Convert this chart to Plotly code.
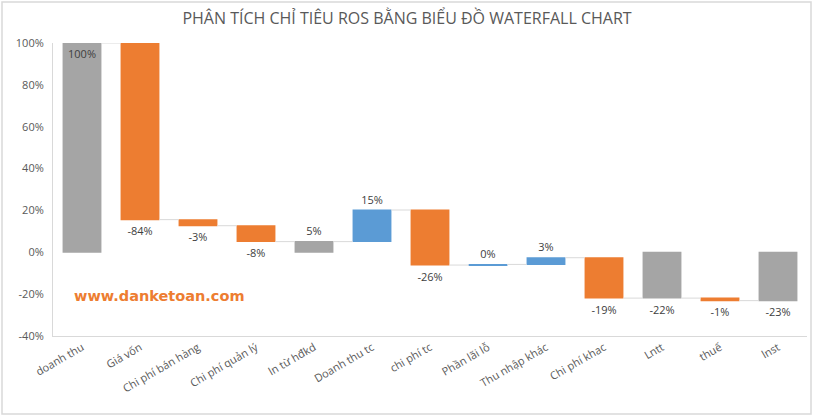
import plotly.graph_objects as go

# =========================
# data (values in %)
categories = [
    "doanh thu", "Giá vốn", "Chi phí bán hàng", "Chi phí quản lý", "ln từ hđkd",
    "Doanh thu tc", "chi phí tc", "Phần lãi lỗ", "Thu nhập khác", "Chi phí khac",
    "Lntt", "thuế", "lnst",
]
measures = [
    "absolute", "relative", "relative", "relative", "total",
    "relative", "relative", "relative", "relative", "relative",
    "total", "relative", "total",
]
values = [100, -84.4, -2.9, -7.6, 0, 15.1, -26.3, 0.3, 3.2, -19.3, 0, -1.2, 0]
y_ticks = [-40, -20, 0, 20, 40, 60, 80, 100]
y_tick_labels = [f"{v}%" for v in y_ticks]

# =========================
# styles
W, H = 814, 417
ML, MR, MT, MB = 53, 7, 43, 81
GREY = "#A5A5A5"
ORANGE = "#ED7D31"
BLUE = "#5B9BD5"
TXT = "#595959"
LINE = "#D9D9D9"
FONT = "Open Sans"

templates = [
    "%{delta:.0f}%" if m == "relative" else "%{final:.0f}%" for m in measures
]
positions = ["inside"] + ["outside"] * (len(categories) - 1)

fig = go.Figure(
    go.Waterfall(
        x=categories,
        y=values,
        measure=measures,
        texttemplate=templates,
        textposition=positions,
        insidetextanchor="end",
        textfont=dict(family=FONT, size=11, color="#404040"),
        insidetextfont=dict(family=FONT, size=11, color="#404040"),
        outsidetextfont=dict(family=FONT, size=11, color="#404040"),
        increasing=dict(marker=dict(color=BLUE)),
        decreasing=dict(marker=dict(color=ORANGE)),
        totals=dict(marker=dict(color=GREY)),
        connector=dict(line=dict(color=LINE, width=1), mode="between"),
        cliponaxis=False,
        hoverinfo="skip",
    )
)

# outer chart border like the Excel chart area
pw = W - ML - MR
ph = H - MT - MB
fig.add_shape(
    type="rect", xref="paper", yref="paper",
    x0=(2 - ML) / pw, x1=(W - 3 - ML) / pw,
    y0=(H - MB - (H - 3)) / ph, y1=(H - MB - 2) / ph,
    line=dict(color=LINE, width=1.5), layer="below",
)

fig.add_annotation(
    text="www.danketoan.com",
    xref="paper", yref="y",
    x=(72 - ML) / pw, y=-21,
    xanchor="left", yanchor="middle",
    showarrow=False,
    font=dict(family="DejaVu Sans", size=14.5, color=ORANGE, weight="bold"),
)

fig.update_layout(
    width=W,
    height=H,
    margin=dict(l=ML, r=MR, t=MT, b=MB),
    plot_bgcolor="white",
    paper_bgcolor="white",
    title=dict(
        text="PHÂN TÍCH CHỈ TIÊU ROS BẰNG BIỂU ĐỒ WATERFALL CHART",
        x=0.5, xanchor="center", y=1 - 18 / H, yanchor="middle",
        font=dict(family=FONT, size=16, color=TXT),
    ),
    font=dict(family=FONT, color=TXT),
    showlegend=False,
    waterfallgap=0.33,
)

fig.update_xaxes(
    showgrid=False,
    showline=True,
    linecolor=LINE,
    tickangle=-30,
    tickfont=dict(size=11, color=TXT),
    ticks="",
)

fig.update_yaxes(
    range=[-40, 100],
    tickmode="array",
    tickvals=y_ticks,
    ticktext=y_tick_labels,
    showgrid=False,
    zeroline=False,
    showline=True,
    linecolor=LINE,
    ticks="",
    ticklabelstandoff=6,
    tickfont=dict(size=11, color=TXT),
)

# page body has a default 8px margin; drop it so the chart sits at 0,0
fig.write_html(
    "out.html",
    config={"displayModeBar": False},
    post_script="document.body.style.margin='0px';",
)
